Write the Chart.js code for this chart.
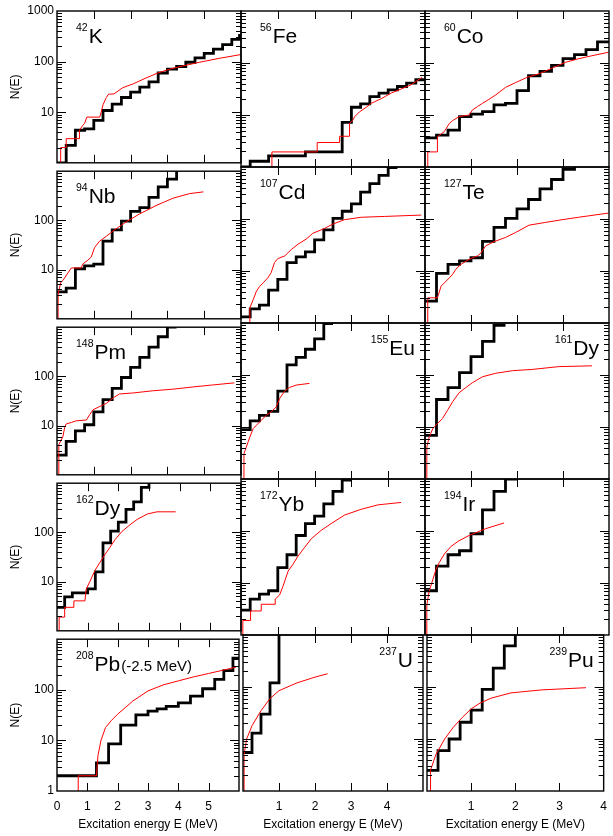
<!DOCTYPE html>
<html>
<head>
<meta charset="utf-8">
<script src="https://cdn.jsdelivr.net/npm/chart.js@4.4.1/dist/chart.umd.min.js"></script>
<style>
  html, body { margin: 0; padding: 0; background: #fff; }
  #wrap { position: relative; width: 613px; height: 836px; overflow: hidden; background: #fff; }
  #wrap canvas { position: absolute; }
</style>
</head>
<body>
<div id="wrap"></div>
<script>
// ---- data: cumulative number of levels N(E), pairs of [E (MeV), N] ----
// black = experimental staircase, red = calculated
const expK42 = [[0,1],[0.25,2.2],[0.5,4.4],[0.75,4.7],[1.0,6.9],[1.25,10.8],[1.5,14.5],[1.75,19.5],[2.0,25],[2.25,31.4],[2.5,39.8],[2.75,59.5],[3.0,71],[3.25,80],[3.5,97],[3.75,119],[4.0,145],[4.25,176],[4.5,216],[4.75,275],[4.96,330],[5,330]];
const calcK42 = [[0.1,0.5],[0.1,2],[0.25,2],[0.25,3],[0.61,3],[0.61,4.4],[0.7,5.5],[0.75,6],[0.81,8],[1.16,8],[1.2,10],[1.25,14],[1.34,19.5],[1.4,22.7],[1.55,23],[1.79,30.6],[2.06,36],[2.42,47.5],[2.74,59.5],[3.06,71],[3.42,82],[3.87,97],[4.41,116],[5,138]];

const expFe56 = [[0,1],[0.25,1.29],[0.75,1.63],[1.75,1.95],[2.75,7.2],[3.0,14.1],[3.25,16.3],[3.5,22.6],[3.75,26.3],[4.0,30.5],[4.25,35.3],[4.5,41],[4.75,47.6],[5,47.6]];
const calcFe56 = [[0.84,0.5],[0.84,1.95],[2.07,1.95],[2.07,2.96],[2.68,2.96],[2.68,3.9],[2.95,3.9],[2.95,6.9],[3.04,8],[3.09,9.3],[3.22,11.5],[3.4,14],[3.54,16.8],[3.63,18],[3.81,20.6],[4.08,26.4],[4.35,31.6],[4.62,38],[4.92,53]];

const expCo60 = [[0,3.64],[0.25,4.1],[0.5,5.1],[0.75,9.3],[1.0,10.4],[1.25,11.6],[1.5,15.6],[1.75,16.8],[2.0,29.5],[2.25,56.9],[2.5,69],[2.75,90],[3.0,121],[3.25,145],[3.5,181],[3.75,254],[4,254]];
const calcCo60 = [[0.06,0.5],[0.06,1.95],[0.27,1.95],[0.27,3.8],[0.42,4.8],[0.53,6.9],[0.6,7.8],[0.74,9.3],[0.96,10],[1.03,12.5],[1.14,14.5],[1.25,16.8],[1.39,20],[1.54,24.4],[1.75,34],[1.97,42],[2.22,53],[2.48,62],[2.77,80],[3.05,103],[3.34,121],[3.63,138],[3.99,161]];

const expNb94 = [[0,3.54],[0.25,4.2],[0.5,10.3],[0.75,11.9],[1.0,12.9],[1.25,38],[1.5,64],[1.75,97],[2.0,152],[2.25,181],[2.5,295],[2.75,478],[3.0,690],[3.25,1100],[3.5,1100]];
const calcNb94 = [[0.03,0.5],[0.03,3.05],[0.1,5.5],[0.16,6],[0.3,8.6],[0.39,10.8],[0.66,10.8],[0.7,12.9],[0.84,15.6],[0.93,18],[1.02,28],[1.16,38],[1.34,47.5],[1.56,64],[1.88,93],[2.24,135],[2.69,200],[3.15,282],[3.6,350],[3.98,380]];

const expCd107 = [[0,1.31],[0.25,1.87],[0.5,2.2],[0.75,4.3],[1.0,6.9],[1.25,14.5],[1.5,18.7],[1.75,23.4],[2.0,39.8],[2.25,62],[2.5,103],[2.75,141],[3.0,195],[3.25,328],[3.5,478],[3.75,690],[4.0,970],[4.25,970]];
const calcCd107 = [[0.24,0.5],[0.24,1.95],[0.33,2.8],[0.42,4.1],[0.51,5.1],[0.6,5.9],[0.73,7.4],[0.82,9.3],[0.91,14.5],[1.0,17.3],[1.19,19.5],[1.37,26],[1.55,32.8],[1.77,41],[1.95,53],[2.23,64],[2.5,80],[2.81,97],[3.27,108],[3.9,112],[4.9,119]];

const expTe127 = [[0,2.63],[0.25,9],[0.5,13.4],[0.75,15.6],[1.0,18],[1.25,37],[1.5,69],[1.75,103],[2.0,156],[2.25,237],[2.5,380],[2.75,575],[3.0,905],[3.25,1100],[3.5,1100]];
const calcTe127 = [[0.06,0.5],[0.06,3.05],[0.27,3.05],[0.35,5.1],[0.42,5.9],[0.53,7.4],[0.6,8.6],[0.67,10.8],[0.78,13.4],[0.96,16.8],[1.14,19.5],[1.21,21.9],[1.32,30.5],[1.5,36.6],[1.75,44.2],[1.97,55],[2.26,76],[2.62,86],[2.98,97],[3.34,108],[3.99,130]];

const expPm148 = [[0,2.5],[0.25,4.76],[0.5,7.8],[0.75,10.4],[1.0,19],[1.25,33.8],[1.5,57],[1.75,95],[2.0,152],[2.25,243],[2.5,392],[2.75,640],[3.0,1000],[3.25,1000]];
const calcPm148 = [[0.05,0.5],[0.05,4.1],[0.16,5.95],[0.21,9.3],[0.25,10.8],[0.39,11.6],[0.52,12.5],[0.8,13],[0.89,16.8],[0.98,21],[1.16,24.4],[1.34,28.3],[1.56,38],[1.7,44],[2.06,46],[2.6,51],[3.15,55],[3.69,61],[4.23,67],[4.82,74]];

const expEu155 = [[0,8.9],[0.25,13.1],[0.5,16.8],[0.75,20],[1.0,49],[1.25,156],[1.5,219],[1.75,313],[2.0,497],[2.25,970],[2.5,970]];
const calcEu155 = [[0.08,0.5],[0.08,3.05],[0.19,5.1],[0.24,6.4],[0.33,9.3],[0.42,10.8],[0.55,13.5],[0.69,16.8],[0.82,19.5],[0.96,24.4],[1.05,35.3],[1.19,49.5],[1.32,57.6],[1.5,64],[1.86,69]];

const expDy161 = [[0,6.9],[0.25,33.8],[0.5,57],[0.75,111],[1.0,226],[1.25,442],[1.5,900],[1.75,900]];
const calcDy161 = [[0.04,0.5],[0.04,4.1],[0.09,6.4],[0.17,9.3],[0.27,11.6],[0.38,14.5],[0.49,21],[0.6,30.5],[0.74,45.5],[0.89,57.6],[1.03,71],[1.25,92.6],[1.54,108],[1.9,121],[2.33,128],[2.91,145],[3.63,150]];

const expDy162 = [[0,3.0],[0.25,4.9],[0.5,5.9],[1.0,7.1],[1.25,15.7],[1.5,61],[1.75,106],[2.0,162],[2.25,295],[2.5,418],[2.75,820],[3.0,1150],[3.25,1150]];
const calcDy162 = [[0.07,0.5],[0.07,1.9],[0.25,1.9],[0.25,3.0],[0.55,3.0],[0.55,4.06],[0.91,4.06],[0.95,6.9],[1.07,10],[1.24,16.9],[1.4,24.6],[1.57,36],[1.73,50],[1.89,71],[2.11,103],[2.33,135],[2.61,183],[2.94,236],[3.26,262],[3.87,262]];

const expYb172 = [[0,3.0],[0.25,4.9],[0.5,6.1],[0.75,7.1],[1.0,19.7],[1.25,34.9],[1.5,82],[1.75,139],[2.0,194],[2.25,333],[2.5,580],[2.75,955],[3.0,955]];
const calcYb172 = [[0.05,0.5],[0.05,1.9],[0.26,1.9],[0.26,2.9],[0.55,2.9],[0.55,3.9],[0.93,3.9],[0.93,4.9],[1.05,5.9],[1.14,8.6],[1.28,16.9],[1.41,22.8],[1.55,33],[1.73,48.5],[1.91,71],[2.18,103],[2.45,139],[2.81,202],[3.27,262],[3.72,318],[4.35,354]];

const expIr194 = [[0,7.1],[0.25,21.2],[0.5,34.9],[0.75,41.7],[1.0,88.6],[1.25,254],[1.5,580],[1.75,1000],[2.0,1000]];
const calcIr194 = [[0.04,0.5],[0.04,3.8],[0.09,6.9],[0.17,11.6],[0.24,18.3],[0.31,24.7],[0.42,36],[0.56,50],[0.74,65],[0.96,82],[1.32,111],[1.72,143]];

const expPb208 = [[0,2],[1.3,3.6],[1.7,8.5],[2.1,20],[2.6,32],[3.0,38],[3.3,42],[3.6,47],[4.0,55],[4.4,75],[4.8,105],[5.2,160],[5.5,240],[5.8,420],[6,420]];
const calcPb208 = [[0.7,0.5],[0.7,2],[1.3,2],[1.35,5],[1.45,10],[1.6,18],[1.8,25],[2.0,33],[2.5,60],[3.0,95],[3.5,125],[4.0,150],[4.5,180],[5.0,210],[5.9,280]];

const expU237 = [[0,5.5],[0.25,13],[0.5,30],[0.75,120],[1.0,1100],[1.25,1100]];
const calcU237 = [[0.03,0.5],[0.03,5],[0.1,10],[0.25,18],[0.5,35],[0.75,60],[1.0,85],[1.5,120],[2.0,155],[2.35,180]];

const expPu239 = [[0,2.5],[0.25,6],[0.5,10],[0.75,21],[1.0,36],[1.25,90],[1.5,230],[1.75,620],[2.0,1100]];
const calcPu239 = [[0.08,0.5],[0.08,2.5],[0.2,5],[0.4,10],[0.6,17],[0.8,26],[1.0,38],[1.2,49],[1.45,61],[1.9,77],[2.6,88],[3.6,97]];

const experimental = [expK42, expFe56, expCo60, expNb94, expCd107, expTe127, expPm148, expEu155, expDy161, expDy162, expYb172, expIr194, expPb208, expU237, expPu239];
const calculated = [calcK42, calcFe56, calcCo60, calcNb94, calcCd107, calcTe127, calcPm148, calcEu155, calcDy161, calcDy162, calcYb172, calcIr194, calcPb208, calcU237, calcPu239];

const massNumbers = ["42","56","60","94","107","127","148","155","161","162","172","194","208","237","239"];
const elements = ["K","Fe","Co","Nb","Cd","Te","Pm","Eu","Dy","Dy","Yb","Ir","Pb","U","Pu"];
const labelNotes = ["","","","","","","","","","","","","(-2.5 MeV)","",""];
const labelOnRight = [false,false,false,false,false,false,false,true,true,false,false,false,false,true,true];
const energyMax = [5,5,4, 5,5,4, 5,5,4, 6,5,4, 6,5,4];

const yTickLabels = [[10,100,1000],[10,100],[10,100],[10,100],[1,10,100]];
const xTickLabels = [[0,1,2,3,4,5],[1,2,3,4],[1,2,3,4]];

// ---- layout ----
const panelLeft = [57, 241, 425];
const panelTop = [11, 167, 323, 479, 635];
const panelW = 184, panelH = 156;
const FONT = "'Liberation Sans', Arial, Helvetica, sans-serif";

Chart.defaults.font.family = FONT;
Chart.defaults.color = "#000";

const framePlugin = {
  id: "frame",
  afterDatasetsDraw(chart, args, opts) {
    const {ctx, chartArea: a} = chart;
    const x = chart.scales.x, y = chart.scales.y;
    ctx.save();
    ctx.strokeStyle = "#000";
    ctx.lineWidth = 1.4;
    ctx.strokeRect(a.left, a.top, a.right - a.left, a.bottom - a.top);
    ctx.beginPath();
    for (let d = 1; d < 1000; d *= 10) {
      for (let m = 1; m < 10; m++) {
        const v = d * m;
        if (v <= y.min) continue;
        const py = Math.round(y.getPixelForValue(v)) + 0.5;
        const len = m === 1 ? 9 : 5;
        ctx.moveTo(a.left, py); ctx.lineTo(a.left + len, py);
        ctx.moveTo(a.right, py); ctx.lineTo(a.right - len, py);
      }
    }
    for (let v = Math.ceil(x.min) + 1; v < x.max; v++) {
      const px = Math.round(x.getPixelForValue(v)) + 0.5;
      ctx.moveTo(px, a.top); ctx.lineTo(px, a.top + 8);
      ctx.moveTo(px, a.bottom); ctx.lineTo(px, a.bottom - 8);
    }
    ctx.lineWidth = 1;
    ctx.stroke();

    // nuclide label
    ctx.fillStyle = "#000";
    ctx.textBaseline = "alphabetic";
    const supFont = "10.5px " + FONT, elFont = "21px " + FONT, noteFont = "15px " + FONT;
    ctx.font = supFont; const wSup = ctx.measureText(opts.mass).width;
    ctx.font = elFont; const wEl = ctx.measureText(opts.element).width;
    ctx.font = noteFont; const wNote = opts.note ? ctx.measureText(opts.note).width + 1 : 0;
    const total = wSup + 1 + wEl + wNote;
    let sx = opts.right ? a.right - 10 - total : a.left + 19;
    const base = a.top + 32;
    ctx.font = supFont; ctx.fillText(opts.mass, sx, base - 12);
    sx += wSup + 1;
    ctx.font = elFont; ctx.fillText(opts.element, sx, base);
    sx += wEl + 1;
    if (opts.note) { ctx.font = noteFont; ctx.fillText(opts.note, sx, base); }
    ctx.restore();
  }
};

const wrap = document.getElementById("wrap");
const toXY = pairs => pairs.map(p => ({x: p[0], y: p[1]}));

experimental.forEach((exp, i) => {
  const row = Math.floor(i / 3), col = i % 3;
  const isLeft = col === 0, isBottom = row === 4;
  const padL = isLeft ? 57 : 6, padR = 6;
  const padT = row === 0 ? 11 : 6, padB = isBottom ? 45 : 6;
  const cv = document.createElement("canvas");
  cv.width = panelW + padL + padR;
  cv.height = panelH + padT + padB;
  cv.style.left = (panelLeft[col] - padL) + "px";
  cv.style.top = (panelTop[row] - padT) + "px";
  wrap.appendChild(cv);

  new Chart(cv, {
    type: "line",
    data: {
      datasets: [
        { data: toXY(calculated[i]), borderColor: "#ff0000", borderWidth: 1, pointRadius: 0, tension: 0, fill: false },
        { data: toXY(exp), borderColor: "#000", borderWidth: 2.8, pointRadius: 0, stepped: "before", fill: false, borderJoinStyle: "miter" }
      ]
    },
    options: {
      responsive: false,
      animation: false,
      events: [],
      layout: { autoPadding: false, padding: { left: isLeft ? 0 : padL, right: padR, top: padT, bottom: isBottom ? 0 : padB } },
      plugins: {
        legend: { display: false },
        tooltip: { enabled: false },
        frame: { mass: massNumbers[i], element: elements[i], note: labelNotes[i], right: labelOnRight[i] }
      },
      scales: {
        x: {
          type: "linear", min: 0, max: energyMax[i], display: isBottom,
          afterBuildTicks: s => { const t = []; for (let v = 0; v <= energyMax[i]; v++) t.push({value: v}); s.ticks = t; },
          ticks: { autoSkip: false, maxRotation: 0, padding: 8, font: { size: 12 }, color: "#000",
                   callback: v => xTickLabels[col].includes(v) ? String(v) : "" },
          grid: { display: false, drawTicks: false },
          border: { display: false },
          title: { display: true, text: "Excitation energy E (MeV)", font: { size: 12 }, color: "#000", padding: { top: 0, bottom: 4 } },
          afterFit: s => { s.height = isBottom ? 45 : 0; }
        },
        y: {
          type: "logarithmic", min: 1, max: 1000, display: isLeft,
          afterBuildTicks: s => { s.ticks = [1, 10, 100, 1000].map(v => ({value: v})); },
          ticks: { autoSkip: false, padding: 3, font: { size: 12 }, color: "#000",
                   callback: v => yTickLabels[row].includes(v) ? String(v) : "" },
          grid: { display: false, drawTicks: false },
          border: { display: false },
          title: { display: true, text: "N(E)", font: { size: 12 }, color: "#000", padding: { top: 8, bottom: 0 } },
          afterFit: s => { s.width = isLeft ? 57 : 0; }
        }
      }
    },
    plugins: [framePlugin]
  });
});
</script>
</body>
</html>
